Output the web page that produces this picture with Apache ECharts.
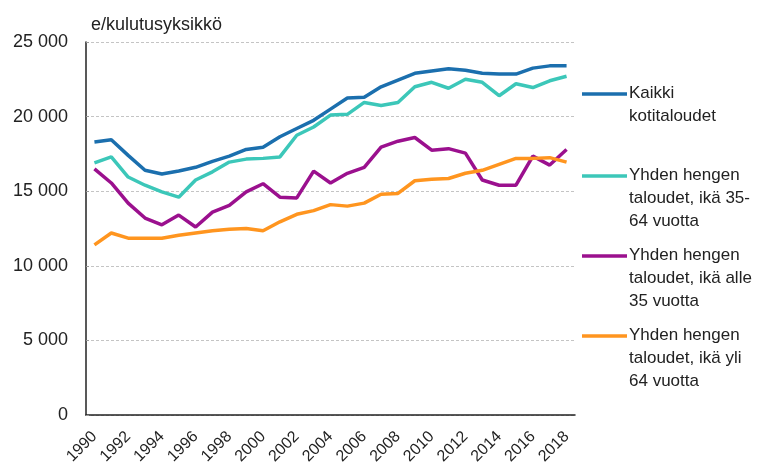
<!DOCTYPE html>
<html lang="fi">
<head>
    <meta charset="UTF-8">
    <title>Kulutusyksikkö</title>
    <script src="https://cdn.jsdelivr.net/npm/echarts@6/dist/echarts.min.js"></script>
    <style>
        html, body { margin: 0; padding: 0; background: #fff; }
        #main { width: 771px; height: 469px; }
    </style>
</head>
<body>
<div id="main"></div>
<script type="text/javascript">
    // vuodet
    var years = ['1990','1991','1992','1993','1994','1995','1996','1997','1998','1999',
        '2000','2001','2002','2003','2004','2005','2006','2007','2008','2009',
        '2010','2011','2012','2013','2014','2015','2016','2017','2018'];

    var kaikki = [18300, 18450, 17400, 16400, 16150, 16350, 16600, 17000, 17350, 17800,
        17950, 18650, 19200, 19750, 20500, 21250, 21300, 22000, 22450, 22900,
        23050, 23200, 23100, 22900, 22850, 22850, 23250, 23400, 23400];

    var ika35_64 = [16900, 17300, 15950, 15400, 14950, 14600, 15750, 16300, 16950, 17150,
        17200, 17300, 18750, 19300, 20100, 20150, 20950, 20750, 20950, 22000,
        22300, 21900, 22500, 22300, 21400, 22200, 21950, 22400, 22700];

    var alle35 = [16500, 15550, 14200, 13200, 12750, 13400, 12600, 13600, 14050, 14950,
        15500, 14600, 14550, 16350, 15550, 16200, 16600, 17950, 18350, 18600,
        17750, 17850, 17550, 15750, 15400, 15400, 17350, 16750, 17800];

    var yli64 = [11400, 12200, 11850, 11850, 11850, 12050, 12200, 12350, 12450, 12500,
        12350, 12950, 13450, 13700, 14100, 14000, 14200, 14800, 14850, 15700,
        15800, 15850, 16200, 16400, 16800, 17200, 17200, 17250, 16950];

    var seriesNames = ['Kaikki\nkotitaloudet', 'Yhden hengen\ntaloudet, ikä 35-\n64 vuotta',
        'Yhden hengen\ntaloudet, ikä alle\n35 vuotta', 'Yhden hengen\ntaloudet, ikä yli\n64 vuotta'];
    var colors = ['#1b6fae', '#3cc7b9', '#9b108e', '#ff951f'];
    var legendY = [94, 176, 256, 336];

    var font = '"Liberation Sans", Arial, sans-serif';

    var myChart = echarts.init(document.getElementById('main'));

    function fmt(v) {
        return String(v).replace(/\B(?=(\d{3})+(?!\d))/g, ' ');
    }

    function line(name, data, color) {
        return {
            name: name,
            type: 'line',
            data: data,
            showSymbol: false,
            lineStyle: { width: 3.5, color: color },
            itemStyle: { color: color }
        };
    }

    // selite piirretään erikseen, jotta viiva on ensimmäisen rivin kohdalla
    var legendGraphics = [];
    for (var i = 0; i < seriesNames.length; i++) {
        legendGraphics.push({
            type: 'line',
            shape: { x1: 582, y1: legendY[i], x2: 627, y2: legendY[i] },
            style: { stroke: colors[i], lineWidth: 3.5 }
        });
        legendGraphics.push({
            type: 'text',
            left: 629,
            top: legendY[i] - 12,
            style: {
                text: seriesNames[i],
                fill: '#222',
                font: '17px ' + font,
                lineHeight: 23
            }
        });
    }

    var option = {
        animation: false,
        title: {
            text: 'e/kulutusyksikkö',
            left: 86,
            top: 11,
            textStyle: {
                fontFamily: font,
                fontSize: 18,
                fontWeight: 'normal',
                color: '#222'
            }
        },
        grid: { left: 86, right: 196, top: 42, bottom: 54 },
        xAxis: {
            type: 'category',
            data: years,
            boundaryGap: true,
            axisLine: { lineStyle: { color: '#222', width: 1.5 } },
            axisTick: { show: false },
            axisLabel: {
                interval: 1,
                rotate: 45,
                margin: 19,
                color: '#222',
                fontSize: 16,
                fontFamily: font
            }
        },
        yAxis: {
            type: 'value',
            min: 0,
            max: 25000,
            interval: 5000,
            axisLine: { show: true, lineStyle: { color: '#222', width: 1.5 } },
            axisTick: { show: true, inside: true, length: 3, lineStyle: { color: '#999' } },
            splitLine: { lineStyle: { color: '#c4c4c4', type: [3, 2], width: 1 } },
            axisLabel: {
                margin: 18,
                color: '#222',
                fontSize: 18,
                fontFamily: font,
                formatter: fmt
            }
        },
        series: [
            line(seriesNames[0], kaikki, colors[0]),
            line(seriesNames[1], ika35_64, colors[1]),
            line(seriesNames[2], alle35, colors[2]),
            line(seriesNames[3], yli64, colors[3])
        ],
        graphic: legendGraphics
    };

    myChart.setOption(option);
</script>
</body>
</html>
